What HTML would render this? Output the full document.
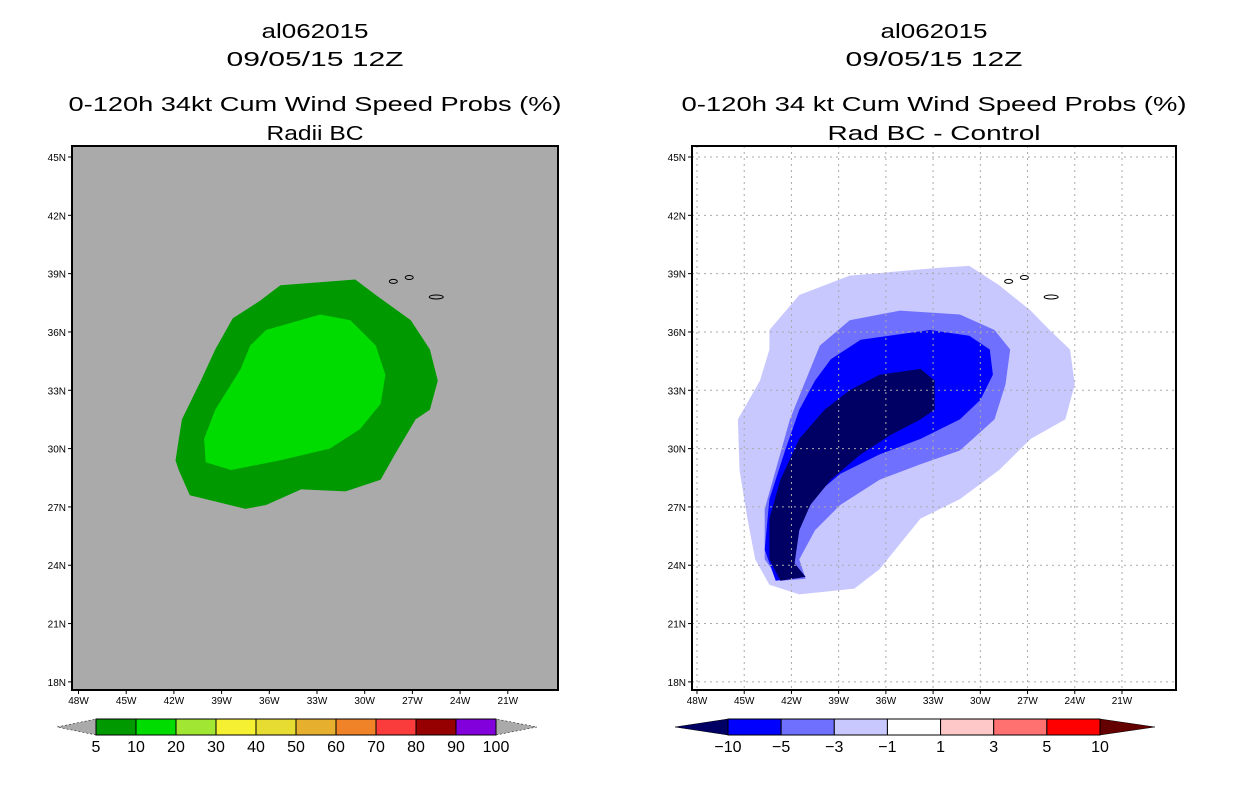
<!DOCTYPE html>
<html><head><meta charset="utf-8"><style>
body{margin:0;background:#fff;width:1236px;height:800px;overflow:hidden}
svg{display:block;font-family:"Liberation Sans",sans-serif}
</style></head><body>
<svg id="s" width="1236" height="800" xmlns="http://www.w3.org/2000/svg"></svg>
<script>
const NS="http://www.w3.org/2000/svg";
const lonTicks=[-48,-45,-42,-39,-36,-33,-30,-27,-24,-21];
const latTicks=[18,21,24,27,30,33,36,39,42,45];
const leftLevels=["5","10","20","30","40","50","60","70","80","90","100"];
const leftColors=["#009a00","#00dc00","#a0e632","#f5f032","#e6dc32","#e6af2d","#f08228","#fa3c3c","#960000","#8200dc"];
const rightLevels=["−10","−5","−3","−1","1","3","5","10"];
const rightColors=["#0000ff","#7070ff","#c8c8ff","#ffffff","#ffc8c8","#ff7070","#ff0000"];
// contours (lon, lat)
const leftOuter=[[-35.3,38.4],[-30.6,38.7],[-29.3,37.9],[-27.1,36.6],[-25.9,35.1],[-25.4,33.5],[-25.9,32.0],[-26.8,31.5],[-28.1,29.7],[-29.0,28.4],[-31.2,27.8],[-34.0,27.9],[-36.2,27.1],[-37.5,26.9],[-41.0,27.6],[-41.7,28.9],[-41.9,29.4],[-41.5,31.5],[-40.3,33.5],[-39.4,35.1],[-38.3,36.7],[-36.6,37.6]];
const leftInner=[[-36.2,36.1],[-32.8,36.9],[-30.9,36.6],[-29.3,35.3],[-28.7,33.8],[-29.0,32.3],[-30.3,31.0],[-32.2,30.0],[-35.3,29.4],[-38.4,28.9],[-40.0,29.3],[-40.1,30.5],[-39.4,32.0],[-37.8,34.1],[-37.2,35.3]];
const rLight=[[-43.4,36.1],[-41.5,37.9],[-38.3,38.9],[-32.6,39.3],[-30.7,39.4],[-28.8,38.4],[-26.8,37.1],[-25.6,36.1],[-24.3,35.1],[-24.0,33.3],[-24.6,31.5],[-26.8,30.5],[-28.8,28.9],[-31.3,27.4],[-33.8,26.4],[-35.1,25.1],[-36.4,23.8],[-38.0,22.8],[-41.5,22.5],[-43.4,23.0],[-44.3,24.3],[-44.8,26.4],[-45.3,28.9],[-45.4,31.5],[-44.0,33.5],[-43.4,35.1]];
const rMed=[[-40.2,35.3],[-38.3,36.6],[-35.1,37.1],[-31.3,36.9],[-29.1,36.1],[-28.1,35.1],[-28.4,33.3],[-29.1,31.5],[-31.3,29.9],[-33.8,29.2],[-36.4,28.4],[-38.9,27.1],[-40.5,25.8],[-41.5,24.3],[-41.1,23.3],[-42.7,23.2],[-43.7,24.3],[-43.7,26.9],[-43.0,28.9],[-42.1,31.5],[-41.1,33.5]];
const rBlue=[[-39.5,34.6],[-37.6,35.6],[-33.2,36.1],[-30.7,35.8],[-29.4,35.1],[-29.2,33.8],[-30.0,32.5],[-31.3,31.5],[-33.8,30.5],[-36.4,29.7],[-38.9,28.7],[-40.8,27.4],[-41.8,25.8],[-42.1,24.3],[-41.1,23.4],[-43.0,23.2],[-43.7,24.8],[-43.4,27.4],[-42.4,29.9],[-41.5,32.0],[-40.5,33.5]];
const rNavy=[[-38.3,33.0],[-36.4,33.8],[-33.8,34.1],[-32.9,33.5],[-32.9,32.0],[-33.8,31.5],[-35.7,30.7],[-37.6,29.7],[-39.5,28.4],[-40.8,27.1],[-41.5,25.8],[-41.8,24.1],[-41.1,23.4],[-42.7,23.2],[-43.4,24.3],[-43.4,26.4],[-42.7,28.4],[-41.5,30.5],[-39.9,32.0]];
const islands=[[-28.2,38.6],[-27.2,38.8],[-25.5,37.8]];

const s=document.getElementById('s');
function el(t,a,p){const e=document.createElementNS(NS,t);for(const k in a)e.setAttribute(k,a[k]);(p||s).appendChild(e);return e;}
function txt(x,y,str,size,anchor,len,name){const t=el('text',{x:x,y:y,'font-size':size,'text-anchor':anchor||'middle',fill:'#000'});if(len){t.setAttribute('textLength',len);t.setAttribute('lengthAdjust','spacingAndGlyphs');}t.textContent=str;


return t;}

function panel(P){
  const g=el('g',{});
  
  
  const X=lon=>P.x48+(lon+48)*P.pxLon, Y=lat=>157+(45-lat)*19.44;
  const r=el('rect',{x:P.x0,y:146,width:P.x1-P.x0,height:544,fill:P.bg},g);
  
  
  P.polys.forEach(([pts,c,nm])=>{
    const p=el('path',{d:'M'+pts.map(q=>X(q[0]).toFixed(1)+','+Y(q[1]).toFixed(1)).join('L')+'Z',fill:c,stroke:'none'},g);
    
    
  });
  lonTicks.forEach(l=>{
    if(P.grid)el('line',{x1:X(l),x2:X(l),y1:146,y2:690,stroke:'#aaa','stroke-dasharray':'2,4'},g);
    el('line',{x1:X(l),x2:X(l),y1:690,y2:694,stroke:'#000'},g);
    txt(X(l),704,(-l)+'W',10,'middle',null,'x-tick-label');
  });
  latTicks.forEach(l=>{
    if(P.grid)el('line',{x1:P.x0,x2:P.x1,y1:Y(l),y2:Y(l),stroke:'#aaa','stroke-dasharray':'2,4'},g);
    el('line',{x1:P.x0-4,x2:P.x0,y1:Y(l),y2:Y(l),stroke:'#000'},g);
    txt(P.x0-6,Y(l)+4,l+'N',10,'end',null,'y-tick-label');
  });
  islands.forEach(q=>{const e=el('ellipse',{cx:X(q[0]),cy:Y(q[1]),rx:q[0]>-26?7:4,ry:2,fill:'none',stroke:'#000','stroke-width':1},g);
    
    });
  el('rect',{x:P.x0,y:146,width:P.x1-P.x0,height:544,fill:'none',stroke:'#000','stroke-width':2},g);
  const cx=(P.x0+P.x1)/2;
  txt(cx,38,'al062015',20,'middle',107,'title-storm');
  txt(cx,66,'09/05/15 12Z',20,'middle',177,'title-date');
  txt(cx,111,P.t1,20,'middle',P.t1len,'title-product');
  txt(cx,140,P.t2,20,'middle',P.t2len,'subtitle');
  // colorbar
  const n=P.colors.length, w=(P.cb1-P.cb0)/n, y0=P.cby, h=16;
  const lt=el('polygon',{points:`${P.cb0},${y0} ${P.cb0},${y0+h} ${P.tl},${y0+h/2}`,fill:P.lc,stroke:'#000','stroke-width':0.5,'stroke-dasharray':P.dash||''},g);
  
  const rt=el('polygon',{points:`${P.cb1},${y0} ${P.cb1},${y0+h} ${P.tr},${y0+h/2}`,fill:P.rc,stroke:'#000','stroke-width':0.5,'stroke-dasharray':P.dash||''},g);
  
  P.colors.forEach((c,i)=>{const b=el('rect',{x:P.cb0+i*w,y:y0,width:w,height:h,fill:c,stroke:'#000','stroke-width':1},g);
    });
  P.levels.forEach((lv,i)=>txt(P.cb0+i*w,y0+33,lv,16,'middle',null,'colorbar-label'));
}
panel({name:'left-panel',x0:72,x1:558,x48:78.5,pxLon:15.9,bg:'#aaaaaa',grid:false,
  polys:[[leftOuter,'#009a00','contour-5-10'],[leftInner,'#00dc00','contour-10-20']],
  t1:'0-120h 34kt Cum Wind Speed Probs (%)',t1len:493,t2:'Radii BC',t2len:97,
  colors:leftColors,levels:leftLevels,cb0:96,cb1:496,cby:719,tl:57,tr:537,lc:'#aaaaaa',rc:'#aaaaaa',dash:'2,2'});
panel({name:'right-panel',x0:692,x1:1176,x48:697,pxLon:15.74,bg:'#ffffff',grid:true,
  polys:[[rLight,'#c8c8ff','contour-minus1-3'],[rMed,'#7070ff','contour-minus3-5'],[rBlue,'#0000ff','contour-minus5-10'],[rNavy,'#000064','contour-below-minus10']],
  t1:'0-120h 34 kt Cum Wind Speed Probs (%)',t1len:505,t2:'Rad BC - Control',t2len:213,
  colors:rightColors,levels:rightLevels,cb0:728,cb1:1100,cby:719,tl:675,tr:1155,lc:'#000064',rc:'#640000'});
</script>
</body></html>
